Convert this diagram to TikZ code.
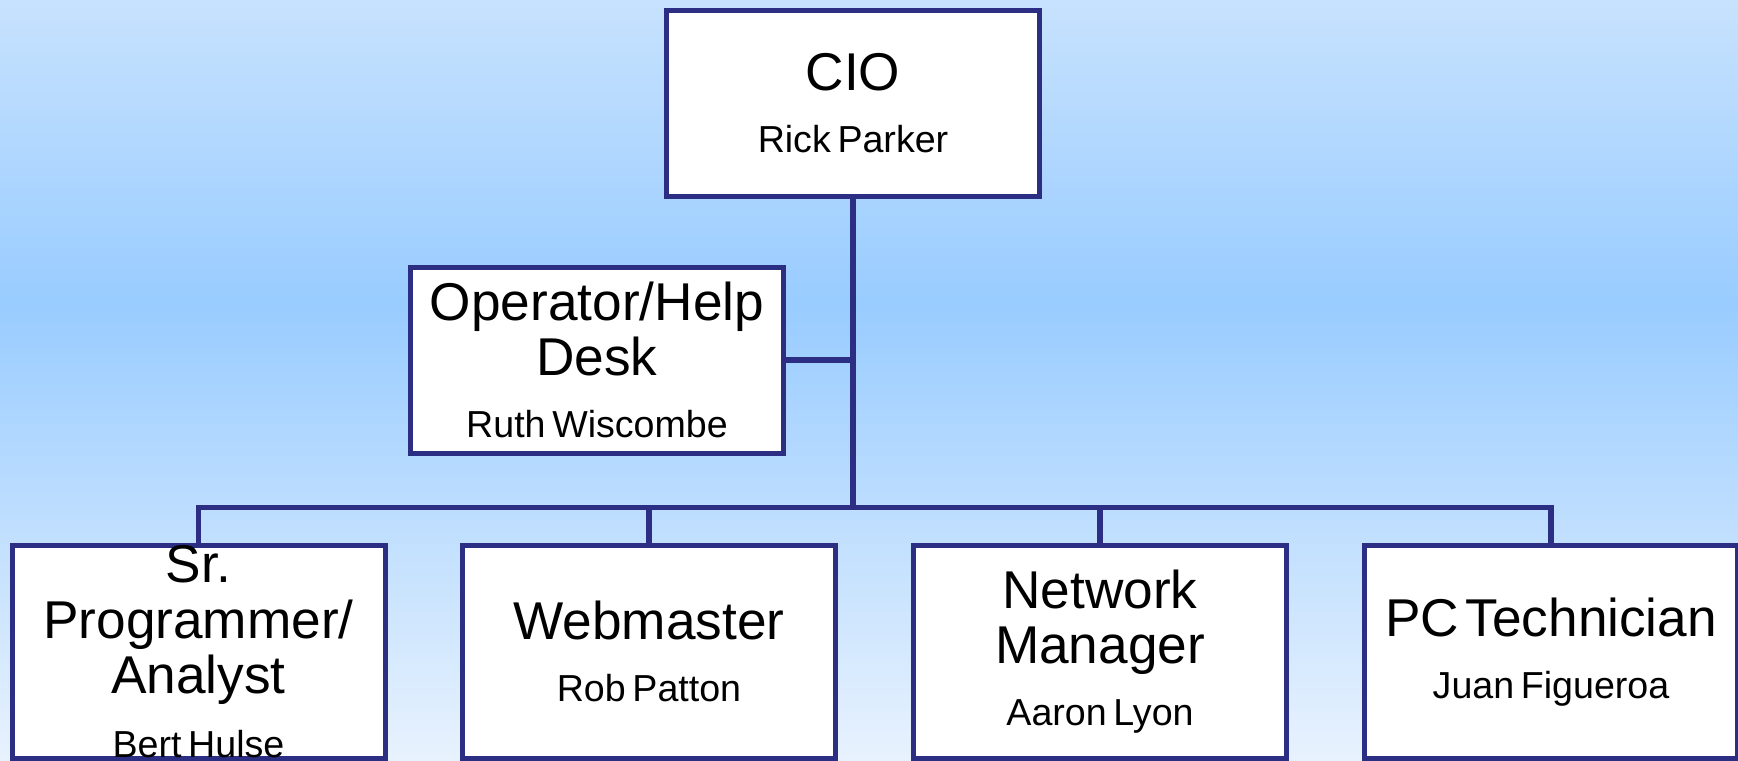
\documentclass[tikz,border=0pt]{standalone}
\usepackage{fontspec}
\setmainfont{Liberation Sans}
\setlength{\parindent}{0pt}
\definecolor{navy}{RGB}{44,46,132}
\definecolor{skytop}{RGB}{199,226,254}
\definecolor{skymid}{RGB}{153,204,255}
\definecolor{skybot}{RGB}{232,242,254}
\pgfdeclareverticalshading{sky}{100bp}{color(0bp)=(skybot); color(25bp)=(skybot); color(55bp)=(skymid); color(75bp)=(skytop); color(100bp)=(skytop)}
\newcommand{\post}[2]{{\fontsize{26.6}{27.75}\selectfont #1\par}\vspace{12pt}{\fontsize{18.8}{19}\selectfont #2\par}}
\tikzset{
	jobbox/.style={draw=navy, line width=2.5pt, fill=white, inner sep=0pt, text width=182pt, align=center, minimum width=186.5pt},
	top/.style={jobbox, minimum height=93pt},
	low/.style={jobbox, minimum height=106.25pt},
	link/.style={draw=navy, line width=2.75pt}
}

\begin{document}
\begin{tikzpicture}[x=0.5pt, y=-0.5pt]
					\useasboundingbox (0,0) rectangle (1738,760);
					\shade[shading=sky] (0,0) rectangle (1738,760);

					\node (cio)  at (853,103)     [top] {\post{CIO}{Rick Parker}};
					\node (desk) at (597,360)     [top] {\post{Operator/Help\\Desk}{Ruth Wiscombe}};
					\node (sr)   at (198.5,651.75) [low] {\post{Sr.\\Programmer/\\Analyst}{Bert Hulse}};
					\node (web)  at (649,651.75)  [low] {\post{Webmaster}{Rob Patton}};
					\node (net)  at (1100,651.75) [low] {\post{Network\\Manager}{Aaron Lyon}};
					\node (pc)   at (1551,651.75) [low] {\post{PC Technician}{Juan Figueroa}};
					\coordinate (bus) at (853,507.5);

					% Draw the reporting lines
					\draw[link] (cio) -- (bus);
					\draw[link] (desk) -- (desk -| bus);
					\draw[link] (sr.north) |- (bus) -| (pc.north);
					\draw[link] (web.north) -- (web.north |- bus);
					\draw[link] (net.north) -- (net.north |- bus);
				\end{tikzpicture}
\end{document}
